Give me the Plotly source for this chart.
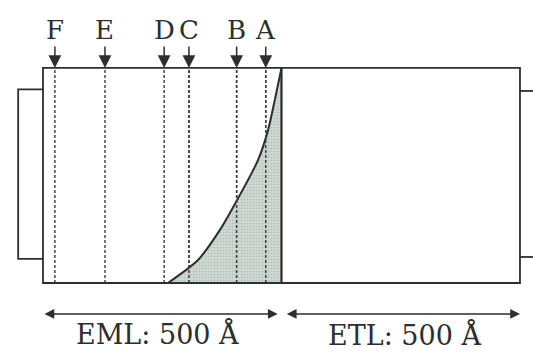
import plotly.graph_objects as go

# ---- data (x in Å from the anode-side edge of EML, y = relative emission) ----
marker_labels = ["F", "E", "D", "C", "B", "A"]
marker_pos = [25, 130, 254, 306, 406, 467]

curve_x = [262, 325, 371, 407, 451, 472, 486, 500]
curve_y = [0.0, 0.107, 0.247, 0.386, 0.572, 0.712, 0.851, 1.0]

eml_thickness = 500
etl_thickness = 500
layer_labels = ["EML: 500 Å", "ETL: 500 Å"]

INK = "#2b2f2d"
FONT = "DejaVu Serif"

fig = go.Figure()

# dashed position lines
for p in marker_pos:
    fig.add_trace(go.Scatter(x=[p, p], y=[0, 1], mode="lines",
                             line=dict(color="#3a3f3c", width=1.4, dash="3px,2px"),
                             hoverinfo="skip", showlegend=False))

# curve with shaded recombination zone beneath it
fig.add_trace(go.Scatter(
    x=curve_x, y=curve_y, mode="lines", fill="tozeroy",
    fillcolor="#cdd5d1",
    fillpattern=dict(shape=".", size=3, solidity=0.4, fgcolor="#9aa5a0", bgcolor="#d3dbd7"),
    line=dict(color=INK, width=2, shape="spline", smoothing=0.7),
    hoverinfo="skip", showlegend=False))

# dashed lines redrawn over the shading (B, A)
for p in marker_pos:
    if p > curve_x[0]:
        fig.add_trace(go.Scatter(x=[p, p], y=[0, 1], mode="lines",
                                 line=dict(color="#3a3f3c", width=1.5, dash="3px,2px"),
                                 hoverinfo="skip", showlegend=False))

total = eml_thickness + etl_thickness
shapes = [
    dict(type="rect", x0=0, x1=total, y0=0, y1=1, line=dict(color=INK, width=1.8)),
    dict(type="line", x0=eml_thickness, x1=eml_thickness, y0=0, y1=1, line=dict(color=INK, width=2.2)),
    # left electrode tab
    dict(type="path", path="M 0,0.9 L -52,0.9 L -52,0.112 L 0,0.112", line=dict(color=INK, width=1.8)),
    # right electrode tabs
    dict(type="line", x0=total, x1=1030, y0=0.893, y1=0.893, line=dict(color=INK, width=1.8)),
    dict(type="line", x0=total, x1=1030, y0=0.121, y1=0.121, line=dict(color=INK, width=1.8)),
]

annotations = []
for lab, p in zip(marker_labels, marker_pos):
    annotations.append(dict(x=p, y=1.0, xref="x", yref="y", text=lab, showarrow=True,
                            ax=0, ay=-38, arrowhead=2, arrowsize=1.7, arrowwidth=1.5,
                            arrowcolor=INK, font=dict(family=FONT, size=26, color=INK)))

# thickness arrows
arrow_y = -0.144
annotations.append(dict(x=eml_thickness - 8, y=arrow_y, ax=0, ay=arrow_y, xref="x", yref="y",
                        axref="x", ayref="y", text="", showarrow=True, arrowhead=2,
                        arrowside="end+start", arrowsize=1.3, arrowwidth=1.5, arrowcolor=INK))
annotations.append(dict(x=total, y=arrow_y, ax=eml_thickness + 8, ay=arrow_y, xref="x", yref="y",
                        axref="x", ayref="y", text="", showarrow=True, arrowhead=2,
                        arrowside="end+start", arrowsize=1.3, arrowwidth=1.5, arrowcolor=INK))
annotations.append(dict(x=eml_thickness / 2 - 10, y=-0.238, xref="x", yref="y", text=layer_labels[0],
                        showarrow=False, font=dict(family=FONT, size=27, color=INK)))
annotations.append(dict(x=eml_thickness + etl_thickness / 2 + 7, y=-0.242, xref="x", yref="y",
                        text=layer_labels[1], showarrow=False,
                        font=dict(family=FONT, size=27, color=INK)))

fig.update_layout(
    width=533, height=352, margin=dict(l=0, r=0, t=0, b=0),
    paper_bgcolor="white", plot_bgcolor="white",
    xaxis=dict(range=[-90.1, 1027.3], visible=False, fixedrange=True),
    yaxis=dict(range=[-0.321, 1.316], visible=False, fixedrange=True),
    shapes=shapes, annotations=annotations, showlegend=False)

fig.write_html("out.html", config={"displayModeBar": False},
               post_script="document.body.style.margin='0';")
